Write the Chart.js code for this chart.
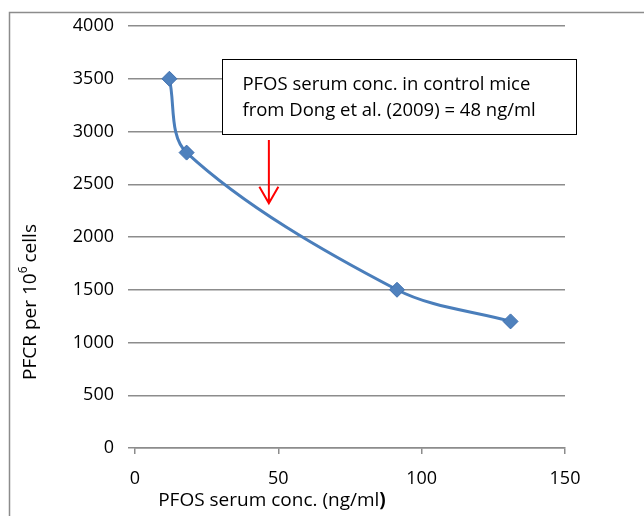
<!DOCTYPE html>
<html>
<head>
<meta charset="utf-8">
<script src="https://cdn.jsdelivr.net/npm/chart.js@4"></script>
<style>
  html, body { margin: 0; padding: 0; background: #fff; }
  #wrap { position: relative; width: 644px; height: 516px; overflow: hidden; }
</style>
</head>
<body>
<div id="wrap"><canvas id="chart" width="644" height="516"></canvas></div>
<script>
// --- data ---
const xValues = [12, 18, 91.4, 131];
const yValues = [3500, 2800, 1500, 1200];
const xTicks = [0, 50, 100, 150];
const yTicks = [0, 500, 1000, 1500, 2000, 2500, 3000, 3500, 4000];

// note box + arrow (in data units)
const noteLines = ['PFOS serum conc. in control mice', 'from Dong et al. (2009) = 48 ng/ml'];
const noteBoxX = [30.5, 154];
const noteBoxY = [3687, 2976];
const arrowX = 46.7;
const arrowY = [2919, 2319];

const FONT = "'Open Sans', 'Liberation Sans', sans-serif";
const gridColor = '#8c8c8c';
const lineBlue = '#4a7ebb';

const extras = {
    id: 'extras',
    afterDraw(chart) {
        const ctx = chart.ctx;
        const xs = chart.scales.x, ys = chart.scales.y;
        ctx.save();

        // outer frame
        ctx.strokeStyle = '#8c8c8c';
        ctx.lineWidth = 1.5;
        ctx.strokeRect(9.5, 12.5, 700, 600);

        // note box
        const bx = xs.getPixelForValue(noteBoxX[0]), bx2 = xs.getPixelForValue(noteBoxX[1]);
        const by = ys.getPixelForValue(noteBoxY[0]), by2 = ys.getPixelForValue(noteBoxY[1]);
        ctx.fillStyle = '#fff';
        ctx.fillRect(bx, by, bx2 - bx, by2 - by);
        ctx.strokeStyle = '#000';
        ctx.lineWidth = 1;
        ctx.strokeRect(Math.round(bx) + 0.5, Math.round(by) + 0.5, Math.round(bx2 - bx), Math.round(by2 - by));
        ctx.fillStyle = '#000';
        ctx.font = '18.5px ' + FONT;
        ctx.textBaseline = 'middle';
        ctx.textAlign = 'left';
        ctx.fillText(noteLines[0], bx + 20, by + 26);
        ctx.fillText(noteLines[1], bx + 20, by + 52);

        // red arrow
        const ax = xs.getPixelForValue(arrowX);
        const ay1 = ys.getPixelForValue(arrowY[0]), ay2 = ys.getPixelForValue(arrowY[1]);
        ctx.strokeStyle = '#ff0000';
        ctx.lineWidth = 2;
        ctx.beginPath();
        ctx.moveTo(ax, ay1);
        ctx.lineTo(ax, ay2);
        ctx.moveTo(ax - 9.5, ay2 - 16.5);
        ctx.lineTo(ax, ay2);
        ctx.lineTo(ax + 9.5, ay2 - 16.5);
        ctx.stroke();

        // x title (with bold closing bracket)
        ctx.fillStyle = '#000';
        ctx.textBaseline = 'middle';
        ctx.textAlign = 'left';
        ctx.font = '19px ' + FONT;
        const t1 = 'PFOS serum conc. (ng/ml';
        const w1 = ctx.measureText(t1).width;
        ctx.font = 'bold 19px ' + FONT;
        const w2 = ctx.measureText(')').width;
        let sx = 272 - (w1 + w2) / 2;
        ctx.font = '19px ' + FONT;
        ctx.fillText(t1, sx, 501);
        ctx.font = 'bold 19px ' + FONT;
        ctx.fillText(')', sx + w1, 501);

        // y title, rotated, with superscript 6
        ctx.translate(31, 302);
        ctx.rotate(-Math.PI / 2);
        const p1 = 'PFCR per 10', p2 = '6', p3 = 'cells';
        const gap = 4;
        ctx.font = '19px ' + FONT;
        const a = ctx.measureText(p1).width, c = ctx.measureText(p3).width;
        ctx.font = '12px ' + FONT;
        const b = ctx.measureText(p2).width;
        let tx = -(a + b + gap + c) / 2;
        ctx.font = '19px ' + FONT;
        ctx.fillText(p1, tx, 0);
        ctx.fillText(p3, tx + a + b + gap, 0);
        ctx.font = '12px ' + FONT;
        ctx.fillText(p2, tx + a, -7);
        ctx.restore();
    }
};

new Chart(document.getElementById('chart'), {
    type: 'scatter',
    data: {
        datasets: [{
            data: xValues.map((x, i) => ({ x: x, y: yValues[i] })),
            showLine: true,
            tension: 0.33,
            borderColor: lineBlue,
            borderWidth: 3,
            pointStyle: 'rectRot',
            pointRadius: 7.5,
            pointBackgroundColor: '#4f81bd',
            pointBorderColor: '#3f6fae',
            pointBorderWidth: 1
        }]
    },
    options: {
        responsive: false,
        animation: false,
        layout: { padding: { top: 26, right: 79, left: 0, bottom: 0 } },
        plugins: { legend: { display: false }, tooltip: { enabled: false } },
        scales: {
            x: {
                type: 'linear',
                min: 0, max: 150,
                afterBuildTicks: s => { s.ticks = xTicks.map(v => ({ value: v })); },
                afterFit: s => { s.height = 68; },
                ticks: { color: '#000', font: { family: FONT, size: 18 }, padding: 14, callback: v => String(v) },
                grid: { drawOnChartArea: false, drawTicks: true, tickLength: 6, color: gridColor, lineWidth: 1.5 },
                border: { display: true, color: gridColor, width: 1.5 }
            },
            y: {
                min: 0, max: 4000,
                afterBuildTicks: s => { s.ticks = yTicks.map(v => ({ value: v })); },
                afterFit: s => { s.width = 135; },
                ticks: { color: '#000', font: { family: FONT, size: 18 }, padding: 14, callback: v => String(v) },
                grid: { color: gridColor, lineWidth: 1.5, tickLength: 7 },
                border: { display: false }
            }
        }
    },
    plugins: [extras]
});
</script>
</body>
</html>
